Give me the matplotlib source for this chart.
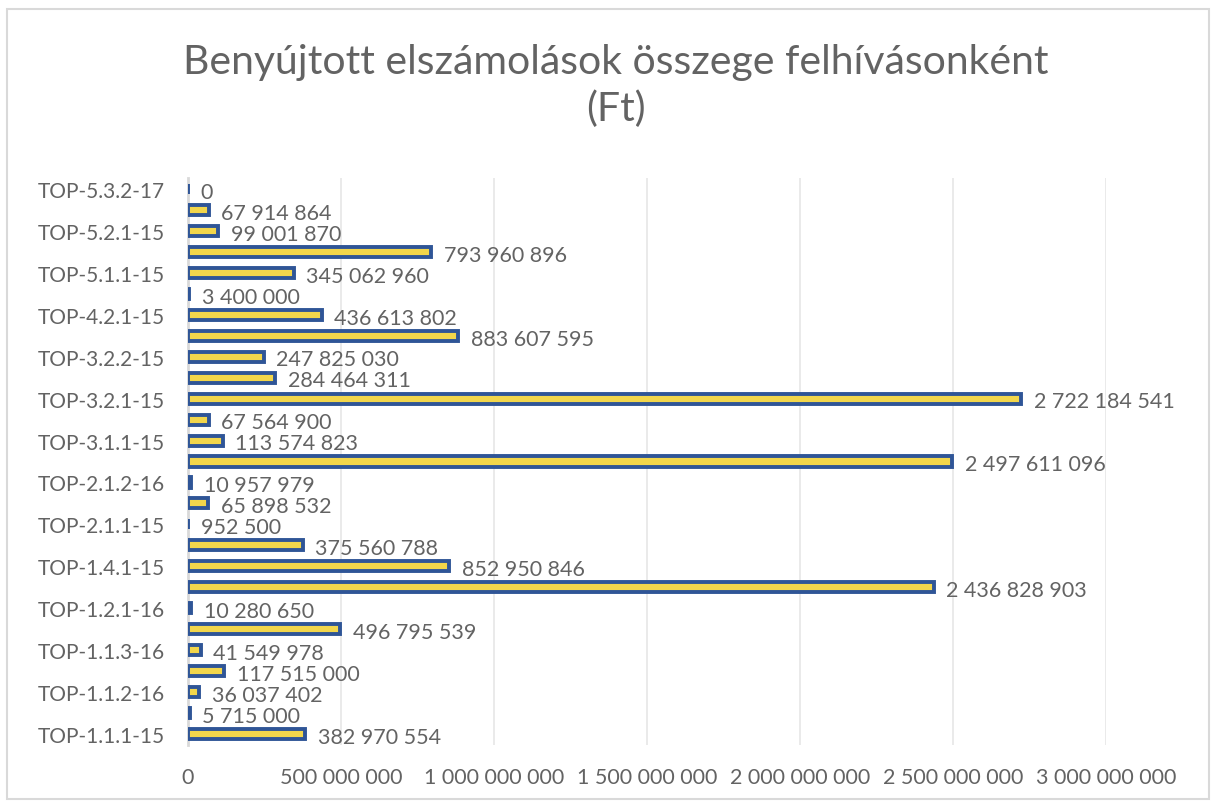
import matplotlib
matplotlib.use("Agg")
import matplotlib.pyplot as plt
from matplotlib.patches import Rectangle

# values bottom -> top
values = [382970554, 5715000, 36037402, 117515000, 41549978, 496795539,
          10280650, 2436828903, 852950846, 375560788, 952500, 65898532,
          10957979, 2497611096, 113574823, 67564900, 2722184541, 284464311,
          247825030, 883607595, 436613802, 3400000, 345062960, 793960896,
          99001870, 67914864, 0]
# only every second category carries a visible label
tick_labels = ["TOP-1.1.1-15", "TOP-1.1.2-16", "TOP-1.1.3-16", "TOP-1.2.1-16",
               "TOP-1.4.1-15", "TOP-2.1.1-15", "TOP-2.1.2-16", "TOP-3.1.1-15",
               "TOP-3.2.1-15", "TOP-3.2.2-15", "TOP-4.2.1-15", "TOP-5.1.1-15",
               "TOP-5.2.1-15", "TOP-5.3.2-17"]
x_ticks = [0, 500000000, 1000000000, 1500000000, 2000000000, 2500000000, 3000000000]

title = "Benyújtott elszámolások összege felhívásonként\n(Ft)"

grey = "#636363"
plt.rcParams['font.family'] = ['Lato', 'DejaVu Sans']


def fmt(v):
    return f"{v:,}".replace(",", " ")


def main():
    fig = plt.figure(figsize=(12.14, 8.03), dpi=100)
    fig.patches.append(Rectangle((0.006, 0.004), 0.99, 0.984, transform=fig.transFigure,
                                 fill=False, edgecolor="#D9D9D9", linewidth=1.5))
    ax = fig.add_axes([0.1549, 0.0715, 0.7562, 0.705])

    pos = list(range(len(values)))
    ax.barh(pos, values, height=0.48, color="#F2D64B", edgecolor="#2F5597",
            linewidth=2.8, zorder=3)
    for p, v in zip(pos, values):
        ax.annotate(fmt(v), (v, p), xytext=(9, -2), textcoords="offset points",
                    ha="left", va="center", fontsize=15.5, color=grey)

    ax.set_xlim(0, 3000000000)
    ax.set_ylim(-0.5, len(values) - 0.5)
    ax.set_xticks(x_ticks)
    ax.set_xticklabels([fmt(t) for t in x_ticks], fontsize=15.5, color=grey)
    ax.set_yticks(pos[::2])
    ax.set_yticklabels(tick_labels, fontsize=15, color=grey)
    ax.tick_params(axis="both", length=0)
    ax.tick_params(axis="x", pad=16)
    ax.tick_params(axis="y", pad=17)
    ax.grid(axis="x", color="#E6E6E6", linewidth=1.2, zorder=0)
    for s in ["top", "right", "bottom"]:
        ax.spines[s].set_visible(False)
    ax.spines["left"].set_color("#D9D9D9")
    ax.spines["left"].set_linewidth(2)

    fig.text(0.507, 0.893, title, ha="center", va="center", fontsize=29.5,
             color=grey, linespacing=1.3)

    fig.savefig("out.png", dpi=100)


if __name__ == "__main__":
    main()
